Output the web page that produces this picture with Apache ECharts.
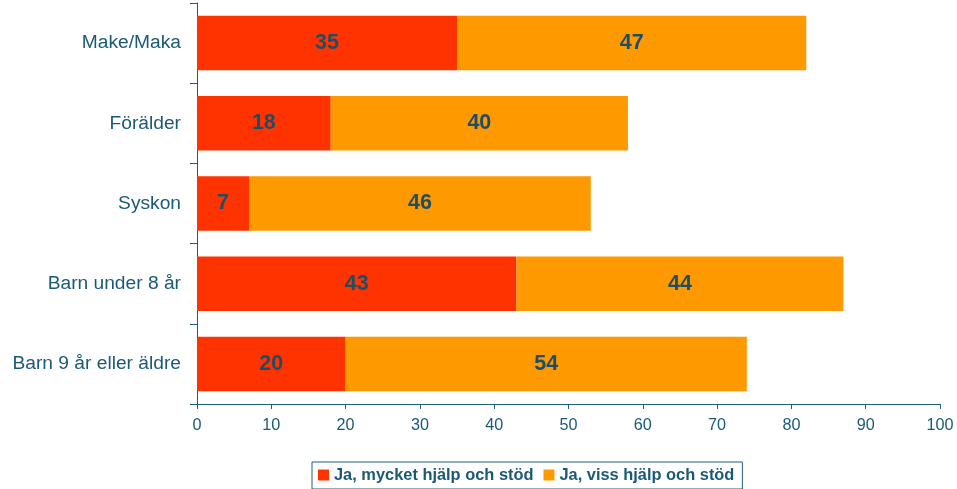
<!DOCTYPE html>
<html>
<head>
<meta charset="utf-8">
<script src="https://cdn.jsdelivr.net/npm/echarts@6/dist/echarts.min.js"></script>
<style>
  html, body { margin: 0; padding: 0; background: #fff; }
  #chart { width: 957px; height: 489px; }
</style>
</head>
<body>
<div id="chart"></div>
<script>
var categories = ['Make/Maka', 'Förälder', 'Syskon', 'Barn under 8 år', 'Barn 9 år eller äldre'];
var seriesNames = ['Ja, mycket hjälp och stöd', 'Ja, viss hjälp och stöd'];
var muchHelp = [35, 18, 7, 43, 20];
var someHelp = [47, 40, 46, 44, 54];
var xTicks = [0, 10, 20, 30, 40, 50, 60, 70, 80, 90, 100];

var axisColor = '#1f5f7a';
var textColor = '#1b5a75';
var fontFam = 'Arial, "Liberation Sans", sans-serif';

var chart = echarts.init(document.getElementById('chart'));

var barLabel = {
    show: true,
    position: 'inside',
    fontSize: 21.5,
    fontWeight: 'bold',
    fontFamily: fontFam,
    color: '#1d4e66'
};

chart.setOption({
    animation: false,
    textStyle: { fontFamily: fontFam },
    grid: { left: 197, right: 17, top: 3, bottom: 85, containLabel: false },
    legend: {
        data: seriesNames,
        top: 462,
        left: 312,
        icon: 'rect',
        itemWidth: 11,
        itemHeight: 11,
        itemGap: 10,
        padding: [5, 8, 6, 6],
        borderColor: axisColor,
        borderWidth: 1,
        textStyle: { fontSize: 16.4, fontWeight: 'bold', color: textColor, fontFamily: fontFam }
    },
    xAxis: {
        type: 'value',
        min: xTicks[0],
        max: xTicks[xTicks.length - 1],
        interval: 10,
        splitLine: { show: false },
        axisLine: { show: true, lineStyle: { color: axisColor } },
        axisTick: { show: true, length: 5, lineStyle: { color: axisColor } },
        axisLabel: { margin: 14, fontSize: 16.2, color: textColor, fontFamily: fontFam }
    },
    yAxis: {
        type: 'category',
        inverse: true,
        data: categories,
        axisLine: { show: true, lineStyle: { color: axisColor } },
        axisTick: { show: true, length: 7, lineStyle: { color: axisColor } },
        axisLabel: { margin: 16, fontSize: 19.2, color: textColor, fontFamily: fontFam }
    },
    series: [
        {
            name: seriesNames[0],
            type: 'bar',
            stack: 'total',
            barCategoryGap: '32%',
            itemStyle: { color: '#ff3300' },
            label: barLabel,
            data: muchHelp
        },
        {
            name: seriesNames[1],
            type: 'bar',
            stack: 'total',
            barCategoryGap: '32%',
            itemStyle: { color: '#ff9900' },
            label: barLabel,
            data: someHelp
        }
    ]
});
</script>
</body>
</html>
